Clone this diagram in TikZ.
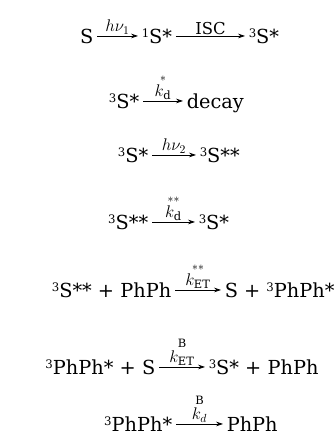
\documentclass[tikz,border=0pt]{standalone}
\usepackage{amsmath}
\usepackage{fontspec}
\setmainfont{DejaVu Serif}
\usepackage{tikz}
\usetikzlibrary{arrows.meta}

\newcommand{\mult}[1]{{\fontsize{10}{12}\selectfont\raisebox{4.8pt}{#1}}}

\tikzset{
  spec/.style={font=\fontsize{16.5}{20}\selectfont,inner xsep=3pt,inner ysep=0pt,
    text height=12pt,text depth=0pt,anchor=base west},
  rxn/.style={-{Stealth[length=6pt,width=4pt]},line width=0.6pt},
  lbl/.style={above,font=\fontsize{14}{16}\selectfont,inner sep=1pt}
}

\begin{document}
\begin{tikzpicture}[x=0.03cm,y=-0.03cm]
  \useasboundingbox (0,0) rectangle (334,443);

  % excitation and intersystem crossing
  \node[spec,anchor=base east] (s0) at (97,43) {S};
  \node[spec] (s1) at (138,43) {\mult{1}S*};
  \node[spec] (t1) at (245,43) {\mult{3}S*};
  \draw[rxn] (s0) -- node[lbl] {$h\nu_1$} (s1);
  \draw[rxn] (s1) -- node[lbl] {ISC} (t1);

  % triplet decay
  \node[spec,anchor=base east] (t1a) at (143,108) {\mult{3}S*};
  \node[spec] (dec) at (183,108) {decay};
  \draw[rxn] (t1a) -- node[lbl] {$\overset{*}{k_{\mathrm{d}}}$} (dec);

  % second photon
  \node[spec,anchor=base east] (t1b) at (152,162) {\mult{3}S*};
  \node[spec] (tn) at (196,162) {\mult{3}S**};
  \draw[rxn] (t1b) -- node[lbl] {$h\nu_2$} (tn);

  % upper triplet relaxation
  \node[spec,anchor=base east] (tna) at (152,229) {\mult{3}S**};
  \node[spec] (t1c) at (195,229) {\mult{3}S*};
  \draw[rxn] (tna) -- node[lbl] {$\overset{**}{k_{\mathrm{d}}}$} (t1c);

  % energy transfer to biphenyl
  \node[spec,anchor=base east] (et1) at (175,297) {\mult{3}S** + PhPh};
  \node[spec] (et1p) at (221,297) {S + \mult{3}PhPh*};
  \draw[rxn] (et1) -- node[lbl] {$\overset{**}{k_{\mathrm{ET}}}$} (et1p);

  % back transfer
  \node[spec,anchor=base east] (et2) at (159,374) {\mult{3}PhPh* + S};
  \node[spec] (et2p) at (205,374) {\mult{3}S* + PhPh};
  \draw[rxn] (et2) -- node[lbl] {$\overset{\mathrm{B}}{k_{\mathrm{ET}}}$} (et2p);

  % biphenyl decay
  \node[spec,anchor=base east] (bp) at (176,431) {\mult{3}PhPh*};
  \node[spec] (bpp) at (223,431) {PhPh};
  \draw[rxn] (bp) -- node[lbl] {$\overset{\mathrm{B}}{k_d}$} (bpp);
\end{tikzpicture}
\end{document}
